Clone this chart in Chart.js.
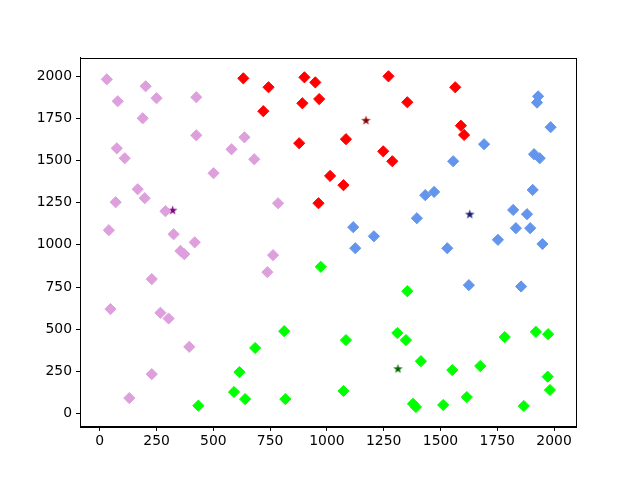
<!DOCTYPE html>
<html>
<head>
<meta charset="utf-8">
<script src="https://cdn.jsdelivr.net/npm/chart.js@4/dist/chart.umd.min.js"></script>
<style>
  html, body { margin: 0; padding: 0; background: #fff; }
  #wrap { width: 640px; height: 480px; }
</style>
</head>
<body>
<div id="wrap"><canvas id="myChart" width="640" height="480"></canvas></div>
<script>
// cluster points, [x, y]
const plumPoints = [
  [31, 1982], [202, 1941], [79, 1852], [250, 1870], [425, 1876], [189, 1751],
  [425, 1650], [637, 1638], [75, 1573], [580, 1567], [110, 1514], [680, 1508],
  [501, 1425], [167, 1330], [198, 1277], [70, 1253], [785, 1247], [289, 1200],
  [40, 1087], [325, 1063], [418, 1015], [355, 964], [372, 945], [763, 939],
  [738, 838], [229, 797], [47, 619], [267, 597], [303, 563], [394, 395],
  [229, 233], [130, 91]
];
const redPoints = [
  [632, 1988], [743, 1935], [901, 1994], [949, 1964], [892, 1840], [966, 1865],
  [720, 1793], [878, 1603], [1014, 1409], [963, 1247], [1271, 2000], [1565, 1935],
  [1354, 1846], [1084, 1627], [1248, 1555], [1288, 1496], [1590, 1707], [1604, 1652],
  [1073, 1354]
];
const bluePoints = [
  [1930, 1881], [1925, 1844], [1985, 1698], [1692, 1597], [1556, 1496], [1912, 1538],
  [1937, 1514], [1906, 1326], [1433, 1295], [1472, 1314], [1396, 1158], [1820, 1207],
  [1881, 1182], [1116, 1105], [1207, 1051], [1832, 1099], [1895, 1099], [1753, 1030],
  [1949, 1005], [1125, 980], [1530, 980], [1625, 761], [1855, 753]
];
const limePoints = [
  [973, 870], [1354, 725], [1084, 435], [1310, 477], [1348, 435], [1414, 310],
  [1552, 257], [1675, 281], [1783, 453], [1920, 484], [1974, 470], [1972, 218],
  [1982, 139], [1073, 133], [1379, 57], [1392, 38], [1512, 50], [1616, 97],
  [1867, 44], [812, 488], [684, 388], [615, 245], [591, 127], [640, 85],
  [817, 85], [434, 46]
];
// centroids
const centroidPoints = [[321, 1206], [1172, 1739], [1629, 1182], [1313, 265]];
const clusterColors = ['#dda0dd', '#ff0000', '#6495ed', '#00ff00'];
const centroidColors = ['#800080', '#8b0000', '#191970', '#006400'];

const xTicks = [0, 250, 500, 750, 1000, 1250, 1500, 1750, 2000];
const yTicks = [0, 250, 500, 750, 1000, 1250, 1500, 1750, 2000];

function toXY(arr) {
  return arr.map(p => ({ x: p[0], y: p[1] }));
}

// filled five point star, like matplotlib's '*'
function starImage(color) {
  const c = document.createElement('canvas');
  c.width = 11;
  c.height = 11;
  const g = c.getContext('2d');
  const cx = 5.5, cy = 5.8, R = 5, r = R * 0.382;
  g.beginPath();
  for (let i = 0; i < 10; i++) {
    const a = -Math.PI / 2 + i * Math.PI / 5;
    const rr = i % 2 === 0 ? R : r;
    g.lineTo(cx + rr * Math.cos(a), cy + rr * Math.sin(a));
  }
  g.closePath();
  g.fillStyle = color;
  g.fill();
  return c;
}

const clusterSets = [plumPoints, redPoints, bluePoints, limePoints].map((pts, i) => ({
  data: toXY(pts),
  pointStyle: 'rectRot',
  pointRadius: 5.6,
  pointHoverRadius: 5.6,
  backgroundColor: clusterColors[i],
  borderColor: clusterColors[i],
  borderWidth: 1
}));

const starSets = centroidPoints.map((p, i) => ({
  data: [{ x: p[0], y: p[1] }],
  pointStyle: starImage(centroidColors[i]),
  pointRadius: 5,
  backgroundColor: centroidColors[i],
  borderColor: centroidColors[i]
}));

// box round the plot area
const frame = {
  id: 'frame',
  afterDraw(chart) {
    const a = chart.chartArea;
    const ctx = chart.ctx;
    ctx.save();
    ctx.strokeStyle = '#000';
    ctx.lineWidth = 1;
    ctx.strokeRect(Math.round(a.left) + 0.5, Math.round(a.top) + 0.5,
      Math.round(a.right - a.left), Math.round(a.bottom - a.top));
    ctx.restore();
  }
};

const tickFont = { family: 'DejaVu Sans', size: 13.9 };

new Chart(document.getElementById('myChart'), {
  type: 'scatter',
  data: { datasets: clusterSets.concat(starSets) },
  options: {
    responsive: false,
    animation: false,
    devicePixelRatio: 1,
    layout: { padding: { left: 0, top: 57.6, right: 63.7, bottom: 0 } },
    plugins: { legend: { display: false }, tooltip: { enabled: false } },
    scales: {
      x: {
        type: 'linear',
        min: -87,
        max: 2098,
        afterBuildTicks: axis => { axis.ticks = xTicks.map(v => ({ value: v })); },
        afterFit: axis => { axis.height = 53.1; },
        ticks: { color: '#000', font: tickFont, padding: 2, maxRotation: 0, callback: v => String(v) },
        grid: { drawOnChartArea: false, drawTicks: true, tickLength: 4, color: '#000' },
        border: { display: true, color: '#000' }
      },
      y: {
        type: 'linear',
        min: -80,
        max: 2111,
        afterBuildTicks: axis => { axis.ticks = yTicks.map(v => ({ value: v })); },
        afterFit: axis => { axis.width = 80; },
        ticks: { color: '#000', font: tickFont, padding: 4, callback: v => String(v) },
        grid: { drawOnChartArea: false, drawTicks: true, tickLength: 4, color: '#000' },
        border: { display: true, color: '#000' }
      }
    }
  },
  plugins: [frame]
});
</script>
</body>
</html>
